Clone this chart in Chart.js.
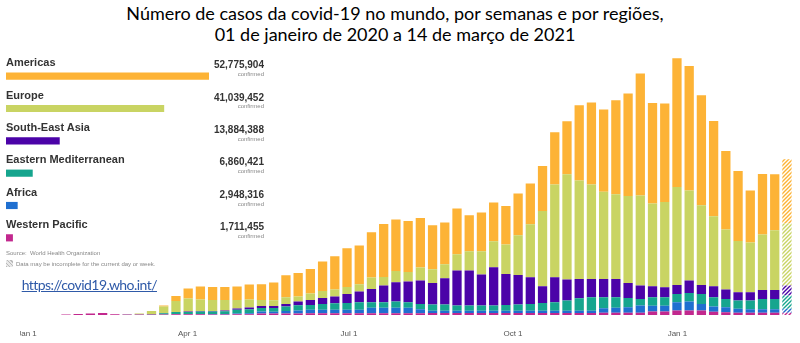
<!DOCTYPE html>
<html lang="pt">
<head>
<meta charset="utf-8">
<title>Casos de covid-19 por semanas e por regiões</title>
<script src="https://cdn.jsdelivr.net/npm/chart.js@4.4.1/dist/chart.umd.min.js"></script>
<style>
  html, body { margin: 0; padding: 0; background: #fff; }
  #page { position: relative; width: 800px; height: 343px; overflow: hidden; font-family: "Liberation Sans", Arial, sans-serif; }
  #title { position: absolute; left: 0; top: 3px; width: 790px; text-align: center; font-family: Lato, sans-serif; font-size: 18px; line-height: 21px; color: #000; }
  #mainWrap { position: absolute; left: 20px; top: 0; width: 780px; height: 343px; overflow: hidden; }
  #mainChart { position: absolute; left: -20px; top: 0; }
  #legendChart { position: absolute; left: 0; top: 59.8px; }
  .region { position: absolute; left: 6px; font-size: 11px; line-height: 11px; font-weight: bold; color: #333; white-space: nowrap; }
  .total { position: absolute; right: 536px; font-size: 10px; line-height: 10px; font-weight: bold; color: #333; }
  .conf { position: absolute; right: 536px; font-size: 6px; line-height: 6px; color: #888; }
  .note { position: absolute; left: 6px; font-size: 6px; line-height: 6px; color: #888; white-space: nowrap; }
  .swatch { display: inline-block; width: 7px; height: 7px; margin-right: 3px; vertical-align: -1px;
            background: repeating-linear-gradient(45deg, #bbb 0 1px, #e8e8e8 1px 2.5px); }
  #link { position: absolute; left: 21.7px; top: 276px; font-family: Lato, sans-serif; font-size: 14px; letter-spacing: -0.55px; color: #2f5aa8; text-decoration: underline; }
</style>
</head>
<body>
<div id="page">
  <div id="title">Número de casos da covid-19 no mundo, por semanas e por regiões,<br>01 de janeiro de 2020 a 14 de março de 2021</div>
  <div id="mainWrap"><canvas id="mainChart" width="800" height="360"></canvas></div>
  <canvas id="legendChart" width="212" height="194"></canvas>
  <div id="legendText"></div>
  <div class="note" style="top:250.4px">Source:&nbsp; World Health Organization</div>
  <div class="note" style="top:260px"><span class="swatch"></span>Data may be incomplete for the current day or week.</div>
  <div id="link">https://covid19.who.int/</div>
</div>
<script>
// regions, bottom of the stack first
const regions = ['Western Pacific', 'Africa', 'Eastern Mediterranean', 'South-East Asia', 'Europe', 'Americas'];
const colors = ['#c2288e', '#1f6fd0', '#16a58e', '#4b03a8', '#c9d463', '#fdb336'];
const totals = [1711455, 2948316, 6860421, 13884388, 41039452, 52775904];

// weekly new cases (thousands), week 0 = 30 Dec 2019 ... week 62 = 8 Mar 2021
const americas = [0,0,0,0,0,0,0,0,0,0, 4,20,100,200,260,260,260,270,300,314,
  354,440,474,492,588,666,774,774,906,1060, 1028,1020,992,880,834,914,720,774,774,772,
  834,814,900,1046,1060,1506,1640,1646,1880,2048, 2440,2012,1968,2574,2492,2200,1906,1572,1400,1040,
  1212,1120,1286];
const europe = [0,0,0,0,0,0,0,0,2,12, 56,130,220,260,230,220,210,170,160,120,
  114,134,100,128,140,140,140,146,228,172, 226,192,260,274,280,326,386,466,520,588,
  794,1060,1506,1854,2106,1968,1888,1744,1694,1740, 1800,1654,1706,1960,1800,1594,1400,1200,1026,994,
  1108,1194,1240];
const seAsia = [0,0,0,0,0,0,0,0,0,0, 1,2,4,10,12,14,18,26,36,40,
  40,54,72,100,120,134,180,214,266,334, 386,414,468,432,526,700,700,620,766,620,
  592,534,334,500,420,386,366,366,366,300, 268,220,200,180,248,180,220,188,166,166,
  180,180,200];
const eastMed = [0,0,0,0,0,0,0,0,2,8, 12,24,40,40,48,48,52,76,80,74,
  76,86,108,96,116,130,136,150,110,110, 124,110,106,124,124,104,104,104,104,116,
  124,136,156,170,204,250,270,220,210,186, 132,170,170,166,172,200,186,166,164,174,
  206,206,264];
const africa = [0,0,0,0,0,0,0,0,0,0, 1,2,4,6,8,8,10,16,20,40,
  36,54,56,70,70,70,70,70,110,110, 110,110,80,44,44,44,44,44,44,44,
  44,44,44,44,44,44,44,90,100,110, 144,116,116,166,180,132,104,100,80,70,
  70,70,80];
const westPac = [0,0,0,6,16,26,38,12,10,6, 6,8,12,14,12,10,10,12,14,26,
  26,26,30,34,34,34,34,34,34,34, 34,34,34,40,40,40,40,40,40,40,
  40,40,40,40,40,40,40,44,44,44, 44,68,68,88,88,88,64,54,44,44,
  44,44,44];

// axis labels and where they sit, in weeks
const tickLabels = ['Jan 1', 'Apr 1', 'Jul 1', 'Oct 1', 'Jan 1'];
const tickWeeks = [-0.19, 12.95, 26.16, 39.58, 53.04];

const series = [westPac, africa, eastMed, seAsia, europe, americas];
const lastWeek = americas.length - 1;

// striped fill for the incomplete last week
function hatch(color) {
    const c = document.createElement('canvas');
    c.width = 4; c.height = 4;
    const g = c.getContext('2d');
    g.fillStyle = '#fff';
    g.fillRect(0, 0, 4, 4);
    g.strokeStyle = color;
    g.lineWidth = 1.4;
    g.beginPath();
    g.moveTo(-1, 5); g.lineTo(5, -1);
    g.moveTo(-1, 1); g.lineTo(1, -1);
    g.moveTo(3, 5); g.lineTo(5, 3);
    g.stroke();
    return g.createPattern(c, 'repeat');
}

const mainCtx = document.getElementById('mainChart').getContext('2d');

const datasets = series.map((values, s) => {
    const stripes = hatch(colors[s]);
    return {
        label: regions[s],
        data: values.map((v, i) => ({ x: i, y: v })),
        backgroundColor: (ctx) => ctx.dataIndex === lastWeek ? stripes : colors[s],
        borderWidth: 0,
        categoryPercentage: 1,
        barPercentage: 0.76
    };
});

new Chart(mainCtx, {
    type: 'bar',
    data: { datasets: datasets },
    options: {
        responsive: false,
        animation: false,
        devicePixelRatio: 1,
        layout: { padding: { left: 23.2, right: 6.95, top: 45, bottom: 7.5 } },
        plugins: { legend: { display: false }, tooltip: { enabled: false } },
        scales: {
            x: {
                type: 'linear',
                offset: false,
                min: -0.5,
                max: 62.5,
                stacked: true,
                grid: { display: false, drawTicks: false, offset: false },
                border: { display: false },
                afterBuildTicks: (axis) => {
                    axis.ticks = tickWeeks.map(v => ({ value: v }));
                },
                ticks: {
                    autoSkip: false,
                    maxRotation: 0,
                    padding: 14,
                    color: '#555',
                    font: { family: "'Liberation Sans', Arial, sans-serif", size: 8 },
                    callback: (value, index) => tickLabels[index]
                }
            },
            y: {
                display: false,
                stacked: true,
                min: 0,
                max: 5400
            }
        }
    }
});

// legend bars on the left, longest region on top
const legendOrder = [5, 4, 3, 2, 1, 0];
new Chart(document.getElementById('legendChart').getContext('2d'), {
    type: 'bar',
    data: {
        labels: legendOrder.map(k => regions[k]),
        datasets: [{
            data: legendOrder.map(k => totals[k]),
            backgroundColor: legendOrder.map(k => colors[k]),
            borderWidth: 0,
            barThickness: 6.5
        }]
    },
    options: {
        indexAxis: 'y',
        responsive: false,
        animation: false,
        devicePixelRatio: 1,
        layout: { padding: { left: 6, right: 3, top: 0, bottom: 0 } },
        plugins: { legend: { display: false }, tooltip: { enabled: false } },
        scales: {
            x: { display: false, min: 0, max: Math.max(...totals) },
            y: { display: false }
        }
    }
});

// legend names and totals
const legendText = document.getElementById('legendText');
legendOrder.forEach((k, row) => {
    const base = 66.6 + 32.35 * row;
    legendText.insertAdjacentHTML('beforeend',
        `<div class="region" style="top:${base - 9.35}px">${regions[k]}</div>` +
        `<div class="total" style="top:${base - 6.17}px">${totals[k].toLocaleString('en-US')}</div>` +
        `<div class="conf" style="top:${base + 4.5}px">confirmed</div>`);
});
</script>
</body>
</html>
